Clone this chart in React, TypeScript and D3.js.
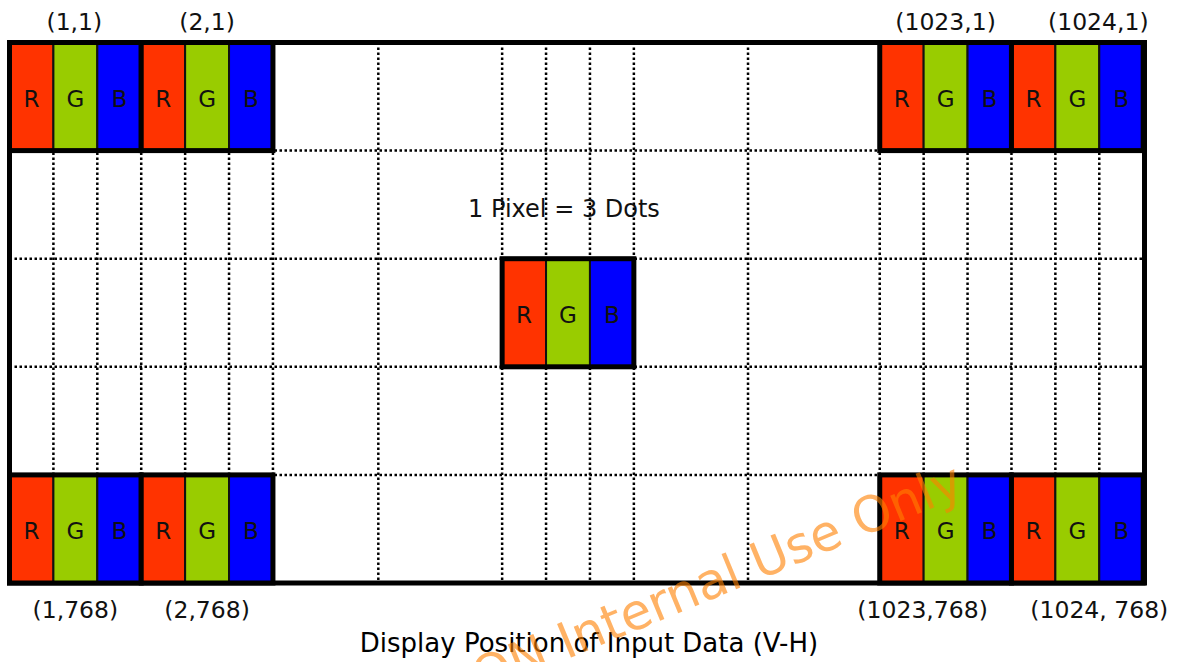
import * as d3 from 'd3';

// column edges in "dot" units (1 dot = one colour stripe)
const colEdges = [0, 1, 2, 3, 4, 5, 6, 8.4, 11.22, 12.22, 13.22, 14.22, 16.82, 19.82, 20.82, 21.82, 22.82, 23.82, 24.82, 25.85];
const rowEdges = [0, 1, 2, 3, 4, 5];

const stripeNames = ['R', 'G', 'B'];
const stripeColors = ['#FF3300', '#99CC00', '#0000FF'];

const topLabels = ['(1,1)', '(2,1)', '(1023,1)', '(1024,1)'];
const bottomLabels = ['(1,768)', '(2,768)', '(1023,768)', '(1024, 768)'];
const cornerCols = [0, 3, 19.82, 22.82];
const centerPixel = { col: 11.22, row: 2 };

const note = '1 Pixel = 3 Dots';
const title = 'Display Position of Input Data (V-H)';
const watermark = 'SION Internal Use Only';

const width = 1181;
const height = 662;
const font = 'DejaVu Sans, Verdana, sans-serif';

// small nudges of the corner labels, as in the drawing
const topDx = [-1, 0, 0, 21];
const bottomDx = [0, 0, -23, 22];

function Pixel({ x, y, w, h }: { x: number; y: number; w: number; h: number }) {
  const sw = w / 3;
  return (
    <g>
      {stripeNames.map((s, i) => (
        <g key={s}>
          <rect x={x + i * sw} y={y} width={sw} height={h} fill={stripeColors[i]} stroke="#111" strokeWidth={2} />
          <text
            x={x + i * sw + sw / 2}
            y={y + h / 2 + 2}
            textAnchor="middle"
            dominantBaseline="central"
            fontSize={23}
            fontFamily={font}
            fill="#111"
          >
            {s}
          </text>
        </g>
      ))}
      <rect x={x} y={y} width={w} height={h} fill="none" stroke="#000" strokeWidth={5} />
    </g>
  );
}

export default function App() {
  const x = d3.scaleLinear().domain([0, 25.85]).range([9.5, 1144.5]);
  const y = d3.scaleLinear().domain([0, 5]).range([42.5, 583]);
  const pw = x(3) - x(0);
  const ph = y(1) - y(0);

  const innerCols = colEdges.slice(1, -1);
  const innerRows = rowEdges.slice(1, -1);

  return (
    <svg width={width} height={height} style={{ position: 'absolute', left: 0, top: 0, background: '#fff' }}>
      {/* dotted grid */}
      {innerCols.map((c, i) => (
        <line key={'v' + i} x1={x(c)} x2={x(c)} y1={y(0)} y2={y(5)} stroke="#000" strokeWidth={2.5} strokeDasharray="2.5,2.5" />
      ))}
      {innerRows.map((r, i) => (
        <line key={'h' + i} x1={x(0)} x2={x(25.85)} y1={y(r)} y2={y(r)} stroke="#000" strokeWidth={2.5} strokeDasharray="2.5,2.5" />
      ))}

      {/* outer frame */}
      <rect x={x(0)} y={y(0)} width={x(25.85) - x(0)} height={y(5) - y(0)} fill="none" stroke="#000" strokeWidth={5} />

      {/* corner pixels */}
      {cornerCols.map((c, i) => (
        <g key={'p' + i}>
          <Pixel x={x(c)} y={y(0)} w={pw} h={ph} />
          <Pixel x={x(c)} y={y(4)} w={pw} h={ph} />
          <text x={x(c) + pw / 2 + topDx[i]} y={30} textAnchor="middle" fontSize={23.5} fontFamily={font} fill="#111">
            {topLabels[i]}
          </text>
          <text x={x(c) + pw / 2 + bottomDx[i]} y={618} textAnchor="middle" fontSize={23.5} fontFamily={font} fill="#111">
            {bottomLabels[i]}
          </text>
        </g>
      ))}

      {/* centre pixel */}
      <Pixel x={x(centerPixel.col)} y={y(centerPixel.row)} w={pw} h={ph} />
      <text x={564} y={217} textAnchor="middle" fontSize={24} fontFamily={font} fill="#111">
        {note}
      </text>

      <text x={589} y={652} textAnchor="middle" fontSize={26} fontFamily={font} fill="#000">
        {title}
      </text>

      {/* watermark */}
      <text
        x={966}
        y={494}
        textAnchor="end"
        fontSize={50}
        fontFamily={font}
        fill="#FF8000"
        opacity={0.6}
        transform="rotate(-22.5, 966, 494)"
      >
        {watermark}
      </text>
    </svg>
  );
}
